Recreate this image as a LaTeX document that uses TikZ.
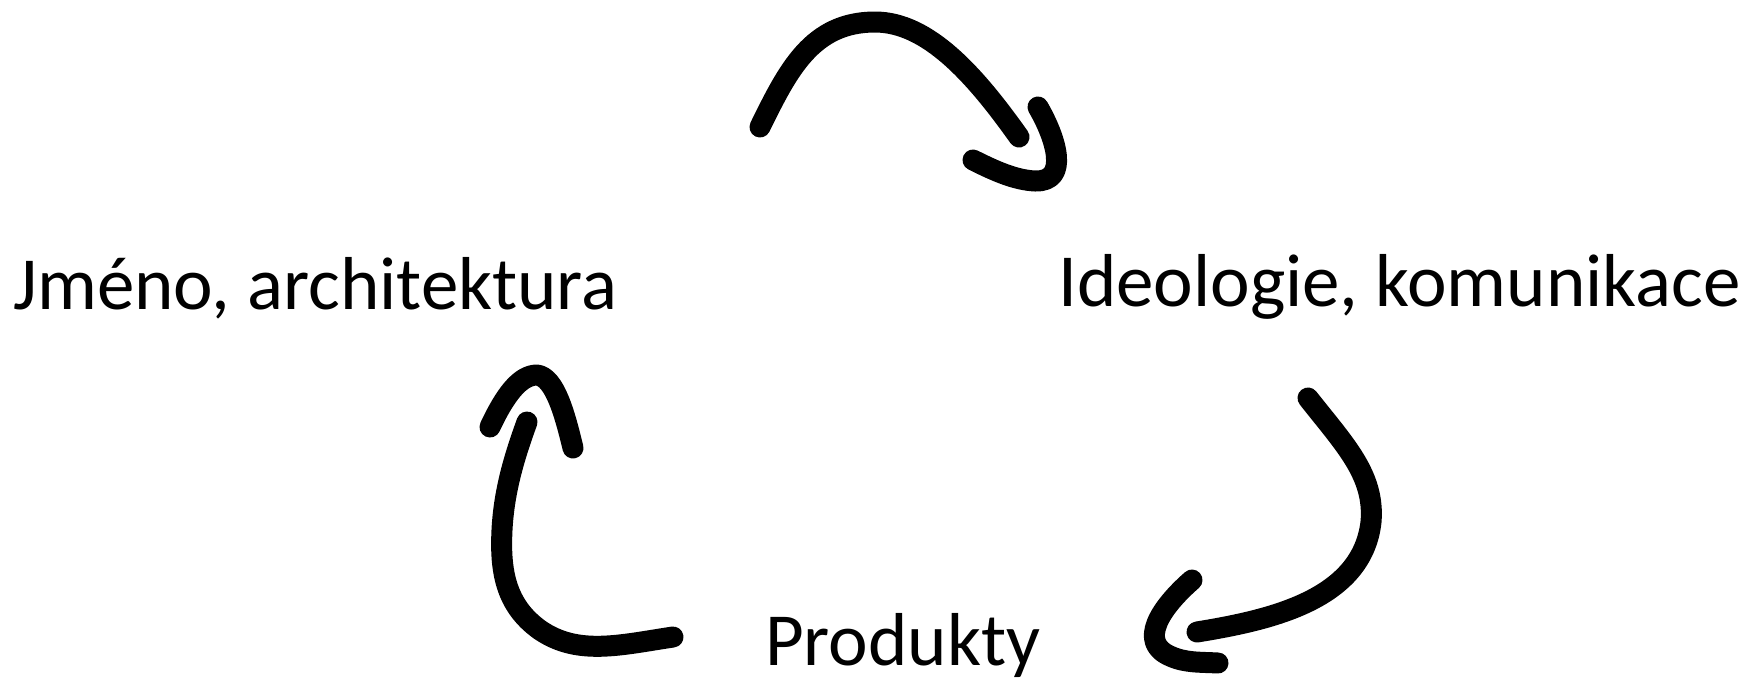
\documentclass[tikz,border=0pt]{standalone}
\usepackage{fontspec}
\setmainfont{Carlito}
\begin{document}
\begin{tikzpicture}[x=1pt,y=-1pt,
  stroke/.style={line width=21pt,line cap=round,line join=round,black},
  label/.style={anchor=base west,inner sep=0pt,font=\fontsize{75pt}{82pt}\selectfont}]
\useasboundingbox (0,0) rectangle (1756,681);
\node[label] (jmeno) at (13,309) {Jméno, architektura};
\node[label] (ideo) at (1058,306) {Ideologie, komunikace};
\node[label] (prod) at (765,665) {Produkty};
% arrow 1 (top)
\draw[stroke] (760,127) .. controls (788,70) and (812,22) .. (875,22)
  .. controls (928,22) and (975,75) .. (1019,137);
\draw[stroke] (1038,107) .. controls (1056,138) and (1070,182) .. (1035,181)
  .. controls (1015,180) and (995,171) .. (973,160);
% arrow 2 (right)
\draw[stroke] (1308,398) .. controls (1345,445) and (1375,475) .. (1371,522)
  .. controls (1362,600) and (1270,620) .. (1197,632);
\draw[stroke] (1192,580) .. controls (1160,608) and (1138,642) .. (1170,656)
  .. controls (1185,663) and (1200,662) .. (1218,663);
% arrow 3 (left)
\draw[stroke] (673,637) .. controls (620,645) and (578,656) .. (540,630)
  .. controls (505,605) and (500,570) .. (502,530)
  .. controls (504,490) and (515,455) .. (527,422);
\draw[stroke] (490,427) .. controls (505,395) and (520,375) .. (537,375)
  .. controls (555,377) and (565,415) .. (573,448);
\end{tikzpicture}
\end{document}
